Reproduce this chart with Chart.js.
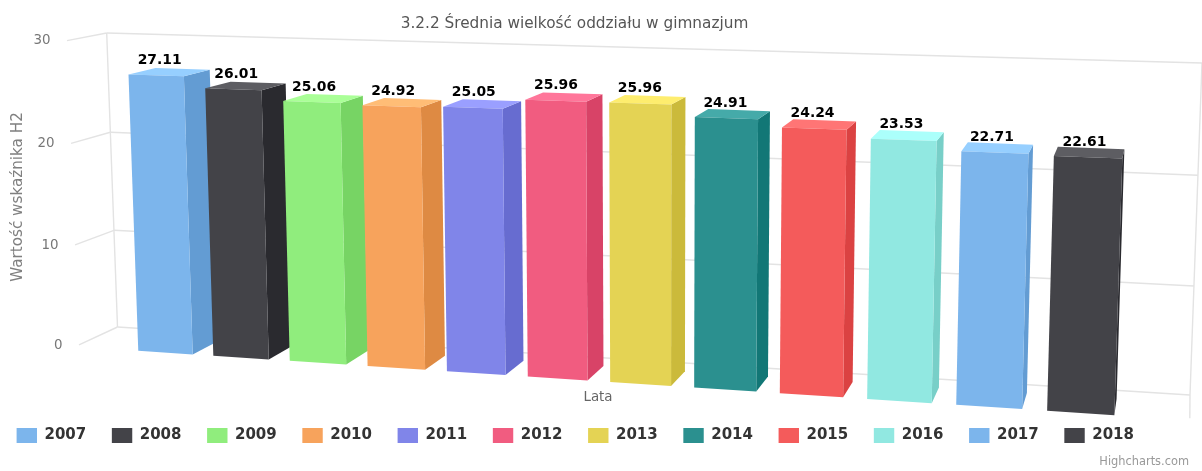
<!DOCTYPE html>
<html>
<head>
<meta charset="utf-8">
<style>html,body{margin:0;padding:0;background:#fff}canvas{display:block}</style>
<script src="https://cdn.jsdelivr.net/npm/chart.js@4"></script>
</head>
<body>
<canvas id="c" width="1202" height="471"></canvas>
<script>
const categories = [''];
const years = ['2007','2008','2009','2010','2011','2012','2013','2014','2015','2016','2017','2018'];
const values = [27.11,26.01,25.06,24.92,25.05,25.96,25.96,24.91,24.24,23.53,22.71,22.61];
const colors = ['#7cb5ec','#434348','#90ed7d','#f7a35c','#8085e9','#f15c80','#e4d354','#2b908f','#f45b5b','#91e8e1','#7cb5ec','#434348'];
const chartTitle = '3.2.2 Średnia wielkość oddziału w gimnazjum';
const yTitle = 'Wartość wskaźnika H2';
const xTitle = 'Lata';
const credit = 'Highcharts.com';

// Camera: the back wall quad plus the depth vanishing point.
const wall = {bl:[117.5,327], br:[1190,395], tr:[1202,63], tl:[106.7,33]};
const vanish = [1195,-175];
const depthW = -0.0345;
const zFront = 1, zBack = 0.29, barDrop = 2;

const homography = (() => {
  const {bl,br,tr,tl} = wall;
  const dx1=br[0]-tr[0], dx2=tl[0]-tr[0], sx=bl[0]-br[0]+tr[0]-tl[0];
  const dy1=br[1]-tr[1], dy2=tl[1]-tr[1], sy=bl[1]-br[1]+tr[1]-tl[1];
  const den=dx1*dy2-dx2*dy1;
  const g=(sx*dy2-dx2*sy)/den, h=(dx1*sy-sx*dy1)/den;
  return {a:br[0]-bl[0]+g*br[0], b:tl[0]-bl[0]+h*tl[0], c:bl[0],
          d:br[1]-bl[1]+g*br[1], e:tl[1]-bl[1]+h*tl[1], f:bl[1], g, h};
})();
function project(X,Y,Z){
  const m=homography;
  const px=m.a*X+m.b*Y+m.c+Z*depthW*vanish[0];
  const py=m.d*X+m.e*Y+m.f+Z*depthW*vanish[1];
  const w=m.g*X+m.h*Y+1+Z*depthW;
  return [px/w,py/w];
}
function shade(hex,k){
  const n=parseInt(hex.slice(1),16), d=Math.round(255*k);
  const c=v=>Math.max(0,Math.min(255,v+d));
  return `rgb(${c(n>>16&255)},${c(n>>8&255)},${c(n&255)})`;
}
function poly(ctx,pts,fill){
  ctx.beginPath();
  pts.forEach((p,i)=>i?ctx.lineTo(p[0],p[1]):ctx.moveTo(p[0],p[1]));
  ctx.closePath();
  ctx.fillStyle=fill; ctx.fill();
}
function line(ctx,a,b){ctx.beginPath();ctx.moveTo(a[0],a[1]);ctx.lineTo(b[0],b[1]);ctx.stroke();}
function text(ctx,s,x,y,font,color,align){
  ctx.font=font;ctx.fillStyle=color;ctx.textAlign=align||'center';ctx.textBaseline='middle';ctx.fillText(s,x,y);
}

const scene3d = {
  id:'scene3d',
  afterLayout(chart){
    // Legend row and title sit off the page centre in the reference.
    chart.legend.left=-9;
    chart.legend.top=437-25.6-9;
    chart.titleBlock.right=1149;
  },
  beforeDatasetsDraw(chart){
    const ctx=chart.ctx, a=chart.chartArea, ys=chart.scales.y;
    const nx=px=>(px-a.left)/(a.right-a.left);
    const ny=py=>(a.bottom-py)/(a.bottom-a.top);
    ctx.save();
    // Walls and gridlines
    ctx.strokeStyle='#e3e3e3'; ctx.lineWidth=1.4;
    line(ctx,project(0,0,0),project(0,1,0));
    line(ctx,project(1,0,0),project(1,1,0));
    line(ctx,project(1,0,0),project(1,0,1));
    ys.ticks.forEach((t,i)=>{
      const Y=ny(ys.getPixelForTick(i));
      line(ctx,project(0,Y,0),project(1,Y,0));
      line(ctx,project(0,Y,0),project(0,Y,1));
      const e=project(0,Y,1);
      text(ctx,String(t.value),e[0]-16.5,e[1]+0.4,'13.4px "DejaVu Sans"','#777','right');
    });
    // Bars, in series order so later ones overlap earlier ones
    const labels=[];
    chart.data.datasets.forEach((ds,i)=>{
      const el=chart.getDatasetMeta(i).data[0];
      const xl=nx(el.x-el.width/2), xr=nx(el.x+el.width/2), yt=ny(el.y), yb=ny(el.base);
      const P=(X,Y,Z)=>{const p=project(X,Y,Z);return [p[0],p[1]+barDrop];};
      const col=ds.backgroundColor;
      poly(ctx,[P(xr,yb,zFront),P(xr,yt,zFront),P(xr,yt,zBack),P(xr,yb,zBack)],shade(col,-0.1));
      poly(ctx,[P(xl,yt,zFront),P(xr,yt,zFront),P(xr,yt,zBack),P(xl,yt,zBack)],shade(col,0.1));
      poly(ctx,[P(xl,yb,zFront),P(xr,yb,zFront),P(xr,yt,zFront),P(xl,yt,zFront)],col);
      const f1=P(xl,yt,zFront), f2=P(xr,yt,zFront);
      const mid=(xl+xr)/2;
      labels.push({s:ds.data[0].toFixed(2),x:(f1[0]+f2[0])/2+4.2-8.6*mid,y:(f1[1]+f2[1])/2-15});
    });
    labels.forEach(l=>{
      ctx.font='bold 13.9px "DejaVu Sans"';ctx.textAlign='center';ctx.textBaseline='middle';
      ctx.strokeStyle='rgba(255,255,255,0.55)';ctx.lineWidth=1.5;ctx.lineJoin='round';
      ctx.strokeText(l.s,l.x,l.y);
      ctx.fillStyle='#000';ctx.fillText(l.s,l.x,l.y);
    });
    // Axis titles and credit
    text(ctx,xTitle,598,397.5,'13.4px "DejaVu Sans"','#666');
    ctx.save();ctx.translate(18,197);ctx.rotate(-Math.PI/2);
    text(ctx,yTitle,0,0,'15.2px "DejaVu Sans"','#808080');
    ctx.restore();
    text(ctx,credit,1189,462.5,'11.4px "DejaVu Sans"','#999','right');
    ctx.restore();
    return false;
  }
};

new Chart(document.getElementById('c'),{
  type:'bar',
  data:{labels:categories,datasets:years.map((y,i)=>({label:y,data:[values[i]],backgroundColor:colors[i]}))},
  plugins:[scene3d],
  options:{
    responsive:false,animation:false,devicePixelRatio:1,
    categoryPercentage:0.9,barPercentage:0.727,
    layout:{padding:{left:0,right:13,top:0,bottom:0}},
    plugins:{
      tooltip:{enabled:false},
      title:{display:true,text:chartTitle,color:'#555',font:{family:'"DejaVu Sans"',size:15.3,weight:'normal'},padding:{top:14.5,bottom:8.1}},
      legend:{display:true,position:'bottom',align:'start',onClick:null,
        labels:{boxWidth:20.4,boxHeight:15,padding:25.6,color:'#333',font:{family:'"DejaVu Sans"',size:15,weight:'bold'}}}
    },
    scales:{
      x:{display:true,grid:{display:false},border:{display:false},ticks:{display:false},afterFit:s=>{s.height=73;}},
      y:{min:0,max:30,ticks:{stepSize:10,display:false},grid:{display:false},border:{display:false},afterFit:s=>{s.width=79;}}
    }
  }
});
</script>
</body>
</html>
